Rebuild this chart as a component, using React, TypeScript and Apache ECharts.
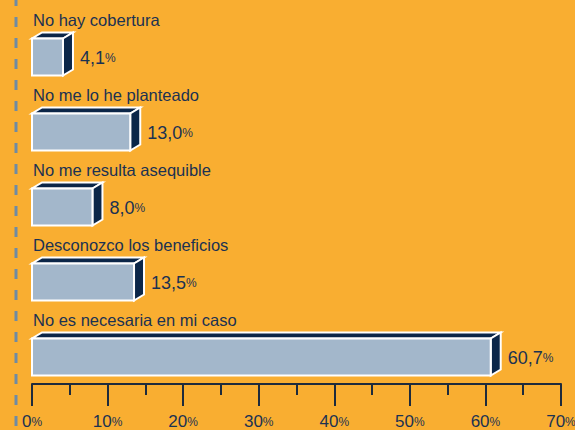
import React, { useEffect, useRef } from "react";
import * as echarts from "echarts";

const categories = [
  "No hay cobertura",
  "No me lo he planteado",
  "No me resulta asequible",
  "Desconozco los beneficios",
  "No es necesaria en mi caso",
];
const values = [4.1, 13.0, 8.0, 13.5, 60.7];
const axisMax = 70;
const axisInterval = 10;

const BG = "#F9AE31";
const NAVY = "#0B2648";
const FRONT = "#A3B7CB";
const TEXT = "#1B3252";
const FONT = "'Liberation Sans', Arial, sans-serif";

export default function App() {
  const ref = useRef<HTMLDivElement>(null);
  useEffect(() => {
    if (!ref.current) return;
    const chart = echarts.init(ref.current, null, { renderer: "svg" });
    const option: any = {
      animation: false,
      backgroundColor: BG,
      grid: {
        left: 32,
        right: 14,
        top: 19.5,
        bottom: 35.5,
        containLabel: false,
        outerBoundsMode: "none",
      },
      xAxis: {
        type: "value",
        min: 0,
        max: axisMax,
        interval: axisInterval,
        offset: -10.5,
        axisLine: { show: true, lineStyle: { color: "#1E2B3C", width: 2 } },
        axisTick: { show: true, length: 22, lineStyle: { color: "#1E2B3C", width: 2 } },
        minorTick: { show: true, splitNumber: 2, length: 11, lineStyle: { color: "#1E2B3C", width: 2 } },
        splitLine: { show: false },
        axisLabel: {
          margin: 29,
          formatter: (v: number) => `{n|${v}}{p|%}`,
          rich: {
            n: { fontSize: 17, color: TEXT, fontFamily: FONT },
            p: { fontSize: 12, color: TEXT, fontFamily: FONT },
          },
        },
      },
      yAxis: {
        type: "category",
        data: categories,
        inverse: true,
        show: false,
      },
      graphic: [
        {
          type: "line",
          shape: { x1: 16, y1: 0, x2: 16, y2: 430 },
          style: { stroke: "#6F8BA4", lineWidth: 3, lineDash: [10, 11], lineDashOffset: 4 },
          z: 10,
        },
      ],
      series: [
        {
          type: "custom",
          data: values.map((v, i) => [v, i]),
          encode: { x: 0, y: 1 },
          renderItem: (params: any, api: any) => {
            const i = params.dataIndex;
            const v = api.value(0);
            const [x1, yc] = api.coord([v, i]);
            const [x0] = api.coord([0, i]);
            const h = 37;
            const top = yc - h / 2;
            const bot = yc + h / 2;
            const dx = 10;
            const dy = 6;
            const stroke = { stroke: "#FFFFFF", lineWidth: 2, lineJoin: "miter" };
            const label = v.toFixed(1).replace(".", ",");
            return {
              type: "group",
              children: [
                {
                  type: "polygon",
                  shape: { points: [[x0, top], [x1, top], [x1 + dx, top - dy], [x0 + dx, top - dy]] },
                  style: { fill: NAVY, ...stroke },
                },
                {
                  type: "polygon",
                  shape: { points: [[x1, top], [x1 + dx, top - dy], [x1 + dx, bot - dy], [x1, bot]] },
                  style: { fill: NAVY, ...stroke },
                },
                {
                  type: "rect",
                  shape: { x: x0, y: top, width: x1 - x0, height: h },
                  style: { fill: FRONT, ...stroke },
                },
                {
                  type: "text",
                  x: x0 + 1,
                  y: yc - 37,
                  style: {
                    text: categories[i],
                    fill: TEXT,
                    font: `16.5px ${FONT}`,
                    verticalAlign: "middle",
                    align: "left",
                  },
                },
                {
                  type: "text",
                  x: x1 + dx + 7,
                  y: yc + 1,
                  style: {
                    text: `{n|${label}}{p|%}`,
                    verticalAlign: "middle",
                    align: "left",
                    rich: {
                      n: { fontSize: 18, fill: TEXT, fontFamily: FONT },
                      p: { fontSize: 12, fill: TEXT, fontFamily: FONT },
                    },
                  },
                },
              ],
            };
          },
        },
      ],
    };
    chart.setOption(option);
    return () => chart.dispose();
  }, []);
  return (
    <div
      ref={ref}
      style={{ position: "fixed", left: 0, top: 0, width: 575, height: 430 }}
    />
  );
}
